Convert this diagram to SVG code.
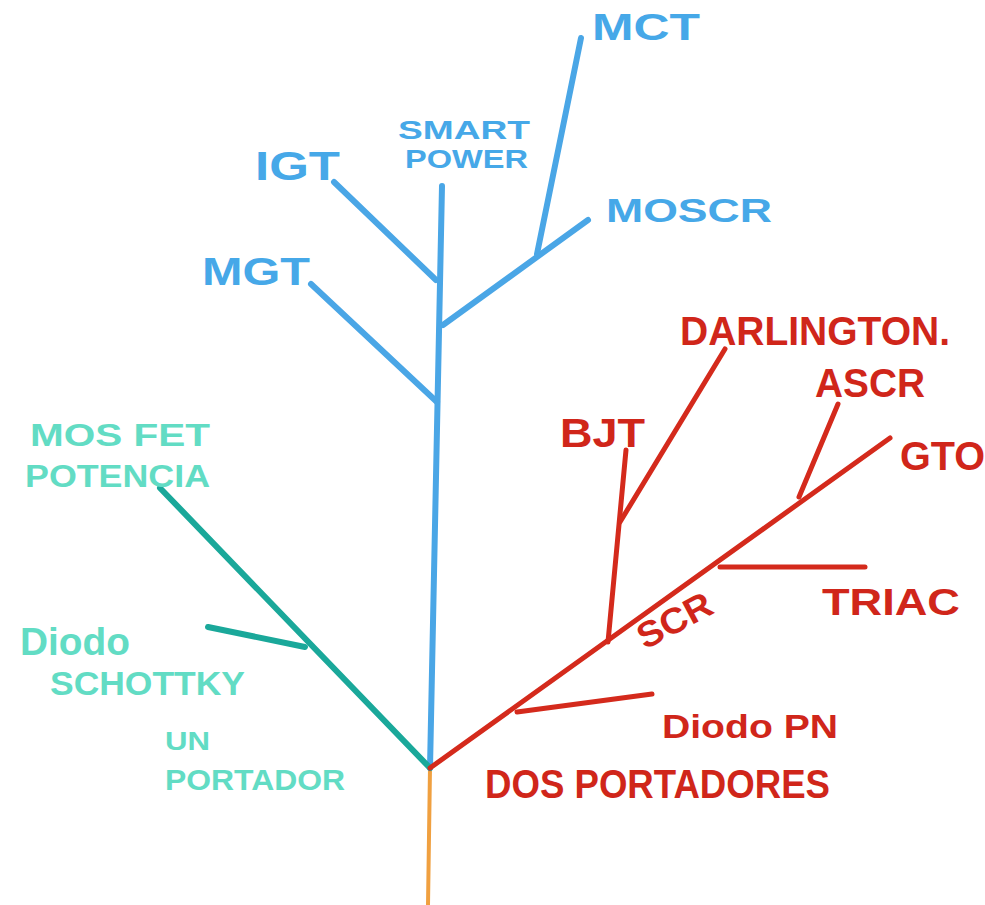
<svg xmlns="http://www.w3.org/2000/svg" width="985" height="905" viewBox="0 0 985 905">
<style>
.bg{fill:#ffffff}
.ln{fill:none;stroke-linecap:round;stroke-linejoin:round}
.blue{stroke:#4aa6e6;stroke-width:6}
.teal{stroke:#1aa89a;stroke-width:6}
.red{stroke:#d42a1c;stroke-width:5}
.orange{stroke:#f0a040;stroke-width:4}
text{font-family:"Liberation Sans",Arial,sans-serif;font-weight:bold}
.tb{fill:#46a8e8}
.tt{fill:#62dcc4}
.tr{fill:#d0261a}
</style>
<rect class="bg" x="0" y="0" width="985" height="905"/>
<g id="connectors">
  <line class="ln orange" x1="430" y1="768" x2="428" y2="905"/>
  <line class="ln blue" x1="430" y1="768" x2="442" y2="186"/>
  <line class="ln blue" x1="437" y1="402" x2="311" y2="284"/>
  <line class="ln blue" x1="436" y1="280" x2="334" y2="182"/>
  <line class="ln blue" x1="443" y1="325" x2="588" y2="220"/>
  <line class="ln blue" x1="537" y1="254" x2="581" y2="38"/>
  <line class="ln teal" x1="430" y1="768" x2="160" y2="488"/>
  <line class="ln teal" x1="305" y1="647" x2="208" y2="627"/>
  <line class="ln red" x1="430" y1="768" x2="890" y2="438"/>
  <line class="ln red" x1="517" y1="712" x2="652" y2="694"/>
  <line class="ln red" x1="608" y1="642" x2="626" y2="450"/>
  <line class="ln red" x1="620" y1="522" x2="725" y2="349"/>
  <line class="ln red" x1="720" y1="567" x2="865" y2="567"/>
  <line class="ln red" x1="799" y1="497" x2="838" y2="404"/>
</g>
<g id="n-mct"><text class="tb" x="592" y="40" font-size="36" textLength="108" lengthAdjust="spacingAndGlyphs">MCT</text></g>
<g id="n-smartpower">
  <text class="tb" x="398" y="139" font-size="26" textLength="132" lengthAdjust="spacingAndGlyphs">SMART</text>
  <text class="tb" x="405" y="168" font-size="26" textLength="123" lengthAdjust="spacingAndGlyphs">POWER</text>
</g>
<g id="n-igt"><text class="tb" x="255" y="180" font-size="40" textLength="85" lengthAdjust="spacingAndGlyphs">IGT</text></g>
<g id="n-moscr"><text class="tb" x="606" y="222" font-size="34" textLength="166" lengthAdjust="spacingAndGlyphs">MOSCR</text></g>
<g id="n-mgt"><text class="tb" x="202" y="285" font-size="38" textLength="108" lengthAdjust="spacingAndGlyphs">MGT</text></g>
<g id="n-mosfet">
  <text class="tt" x="30" y="446" font-size="32" textLength="180" lengthAdjust="spacingAndGlyphs">MOS FET</text>
  <text class="tt" x="25" y="487" font-size="32" textLength="185" lengthAdjust="spacingAndGlyphs">POTENCIA</text>
</g>
<g id="n-schottky">
  <text class="tt" x="20" y="655" font-size="38" textLength="110" lengthAdjust="spacingAndGlyphs">Diodo</text>
  <text class="tt" x="50" y="695" font-size="34" textLength="195" lengthAdjust="spacingAndGlyphs">SCHOTTKY</text>
</g>
<g id="n-unportador">
  <text class="tt" x="165" y="750" font-size="26" textLength="45" lengthAdjust="spacingAndGlyphs">UN</text>
  <text class="tt" x="165" y="790" font-size="30" textLength="180" lengthAdjust="spacingAndGlyphs">PORTADOR</text>
</g>
<g id="n-darlington"><text class="tr" x="680" y="345" font-size="40" textLength="270" lengthAdjust="spacingAndGlyphs">DARLINGTON.</text></g>
<g id="n-ascr"><text class="tr" x="815" y="397" font-size="40" textLength="110" lengthAdjust="spacingAndGlyphs">ASCR</text></g>
<g id="n-bjt"><text class="tr" x="560" y="447" font-size="40" textLength="85" lengthAdjust="spacingAndGlyphs">BJT</text></g>
<g id="n-gto"><text class="tr" x="900" y="470" font-size="40" textLength="85" lengthAdjust="spacingAndGlyphs">GTO</text></g>
<g id="n-triac"><text class="tr" x="822" y="615" font-size="36" textLength="138" lengthAdjust="spacingAndGlyphs">TRIAC</text></g>
<g id="n-scr"><text class="tr" x="645" y="650" font-size="36" textLength="80" lengthAdjust="spacingAndGlyphs" transform="rotate(-28 645 650)">SCR</text></g>
<g id="n-diodopn"><text class="tr" x="662" y="738" font-size="34" textLength="176" lengthAdjust="spacingAndGlyphs">Diodo PN</text></g>
<g id="n-dosportadores"><text class="tr" x="485" y="798" font-size="40" textLength="345" lengthAdjust="spacingAndGlyphs">DOS PORTADORES</text></g>
</svg>
